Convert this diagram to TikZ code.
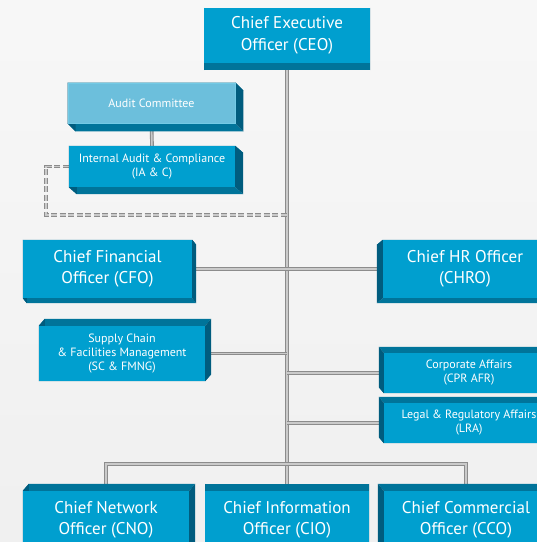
\documentclass[tikz,border=0pt]{standalone}
\usepackage{fontspec}
\setmainfont{PT Sans}
\usetikzlibrary{calc}

\pgfdeclarelayer{bg}
\pgfdeclarelayer{links}
\pgfdeclarelayer{depth}
\pgfsetlayers{bg,links,depth,main}

\definecolor{unitface}{RGB}{0,159,207}
\definecolor{unitedge}{RGB}{0,116,154}
\definecolor{unitside}{RGB}{0,92,126}
\definecolor{boardface}{RGB}{108,191,220}
\definecolor{linkgray}{RGB}{140,140,140}
\definecolor{linklight}{RGB}{202,202,202}

% depth faces of a box: #1 node, #2 shift of its back face
\newcommand{\boxdepth}[2]{%
  \fill[unitedge] (#1.north west) -- (#1.north east) -- ([shift={#2}]#1.north east) -- ([shift={#2}]#1.north west) -- cycle;
  \fill[unitedge] (#1.south west) -- (#1.south east) -- ([shift={#2}]#1.south east) -- ([shift={#2}]#1.south west) -- cycle;
  \fill[unitside] (#1.north west) -- (#1.south west) -- ([shift={#2}]#1.south west) -- ([shift={#2}]#1.north west) -- cycle;
  \fill[unitside] (#1.north east) -- (#1.south east) -- ([shift={#2}]#1.south east) -- ([shift={#2}]#1.north east) -- cycle;
}

\begin{document}
\begin{tikzpicture}[x=1pt, y=-1pt,
unit/.style={rectangle, fill=unitface, text=white, align=center, inner sep=0pt,
minimum height=58pt, font=\fontsize{17}{21.5}\selectfont},
%
smallunit/.style={unit, minimum height=40pt, font=\fontsize{12}{14}\selectfont},
%
board/.style={smallunit, fill=boardface, draw=unitface!55!white, line width=0.8pt},
%
link/.style={draw=linkgray, double=linklight, double distance=1.5pt, line width=1.1pt},
%
dashlink/.style={link, dash pattern=on 6pt off 2.5pt}]

\useasboundingbox (0,0) rectangle (537,542);

\begin{pgfonlayer}{bg}
  \shade[top color=gray!6, bottom color=gray!12] (0,0) rectangle (537,542);
\end{pgfonlayer}

%%%%%%%%%%%%%%%%%%%%%%%%%%%%%%
\begin{scope}
  \node [unit, minimum width=166pt, minimum height=55pt] (ceo) at (287,35.5)
  {Chief Executive\\Officer (CEO)};
  \node [board, minimum width=167pt] (audit) at (151.5,103) {Audit Committee};
  \node [smallunit, minimum width=166pt, minimum height=41pt] (iac) at (152,166.5)
  {Internal Audit \& Compliance\\(IA \& C)};
  %%%%%%%%%%%%%%%%%%%%%%%%%%%%%%
  \node [unit, minimum width=169pt] (cfo) at (107.5,269) {Chief Financial\\Officer (CFO)};
  \node [unit, minimum width=164pt] (chro) at (465,269) {Chief HR Officer\\(CHRO)};
  %%%%%%%%%%%%%%%%%%%%%%%%%%%%%%
  \node [smallunit, minimum width=166pt, minimum height=55pt] (scm) at (122,353.5)
  {Supply Chain\\\& Facilities Management\\(SC \& FMNG)};
  \node [smallunit, minimum width=170pt] (cpr) at (469,373) {Corporate Affairs\\(CPR AFR)};
  \node [smallunit, minimum width=170pt] (lra) at (469,423)
  {Legal \& Regulatory Affairs\\(LRA)};
  %%%%%%%%%%%%%%%%%%%%%%%%%%%%%%
  \node [unit, minimum width=166pt] (cno) at (106,520) {Chief Network\\Officer (CNO)};
  \node [unit, minimum width=164pt] (cio) at (287,520) {Chief Information\\Officer (CIO)};
  \node [unit, minimum width=164pt] (cco) at (466,520) {Chief Commercial\\Officer (CCO)};
\end{scope}

\begin{pgfonlayer}{depth}
  \boxdepth{ceo}{(0,7)}
  \boxdepth{audit}{(8,8)}
  \boxdepth{iac}{(8,7)}
  \boxdepth{cfo}{(4,5)}
  \boxdepth{chro}{(-6,5)}
  \boxdepth{scm}{(6,-7)}
  \boxdepth{cpr}{(-5,-6)}
  \boxdepth{lra}{(-5,-6)}
  \boxdepth{cno}{(6,-7)}
  \boxdepth{cio}{(0,-7)}
  \boxdepth{cco}{(-6,-7)}
\end{pgfonlayer}

\begin{pgfonlayer}{links}
  \draw [link] (ceo.south) -- (cio.north);
  \draw [link] (audit.south) -- (iac.north);
  \draw [link] (cfo.east) -- (chro.west);
  \draw [link] (scm.east) -- (scm.east -| ceo.south);
  \draw [link] (cpr.west -| ceo.south) -- (cpr.west);
  \draw [link] (lra.west -| ceo.south) -- (lra.west);
  %%%%%%%%%%%%%%%%%%%%%%%%%%%%%%
  \coordinate (bus) at (287,464);
  \draw [link] (cno.north) |- (bus) -| (cco.north);
  %%%%%%%%%%%%%%%%%%%%%%%%%%%%%%
  \coordinate (dashcorner) at (46,215);
  \draw [dashlink] (iac.west) -| (dashcorner) -- (dashcorner -| ceo.south);
\end{pgfonlayer}

\end{tikzpicture}
\end{document}
